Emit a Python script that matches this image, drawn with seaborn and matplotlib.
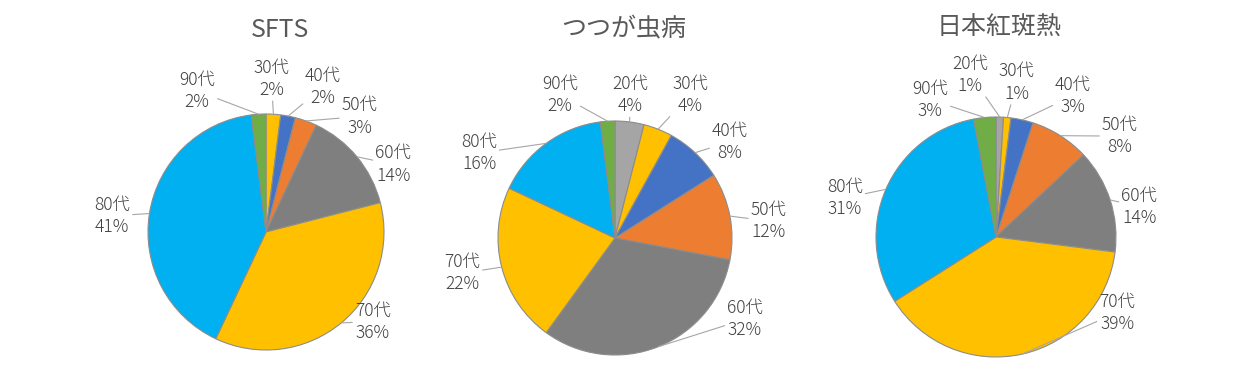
import numpy as np
import matplotlib
matplotlib.use("Agg")
import matplotlib.pyplot as plt
import seaborn as sns

# ---------------- data ----------------
ages = ["20代", "30代", "40代", "50代", "60代", "70代", "80代", "90代"]
titles = ["SFTS", "つつが虫病", "日本紅斑熱"]
sfts_pct = [0, 2, 2, 3, 14, 36, 41, 2]
tsutsugamushi_pct = [4, 4, 8, 12, 32, 22, 16, 2]
jsf_pct = [1, 1, 3, 8, 14, 39, 31, 3]

# ---------------- style ----------------
colors = ["#A5A5A5", "#FFC000", "#4472C4", "#ED7D31",
          "#7F7F7F", "#FFC000", "#00B0F0", "#70AD47"]
W, H = 1239, 377

# layout (pixel units, y from top); label angles clockwise from 12 o'clock
layouts = [
    dict(center=(266, 232), r=118, title_xy=(280, 30),
         lab_ang=[None, 2, 21.5, 39, 62, 130, 276, 334],
         lab_dist=[None, 1.30, 1.32, 1.26, 1.22, 1.18, 1.31, 1.33]),
    dict(center=(615, 238), r=117, title_xy=(624, 29),
         lab_ang=[6, 27.7, 50, 83.7, 122, 257, 302, 339],
         lab_dist=[1.23, 1.38, 1.28, 1.32, 1.31, 1.34, 1.37, 1.31]),
    dict(center=(996, 237), r=120, title_xy=(999, 27),
         lab_ang=[351, 7.7, 28.6, 50.8, 78, 122, 284.5, 334.4],
         lab_dist=[1.37, 1.30, 1.34, 1.33, 1.22, 1.19, 1.30, 1.27]),
]

sns.set_theme(style="white")
plt.rcParams["font.family"] = ["Noto Sans CJK JP", "DejaVu Sans"]

fig = plt.figure(figsize=(W / 100, H / 100), dpi=100)
ax = fig.add_axes([0, 0, 1, 1])

series = [sfts_pct, tsutsugamushi_pct, jsf_pct]
text_color = "#404040"
half_w, half_h = 20, 22

for title, vals, lay in zip(titles, series, layouts):
    idx = [i for i, v in enumerate(vals) if v > 0]
    v = [vals[i] for i in idx]
    cols = [colors[i] for i in idx]
    cx, cy_top = lay["center"]
    cy = H - cy_top
    R = lay["r"]
    wedges, _ = ax.pie(v, colors=cols, startangle=90, counterclock=False,
                       center=(cx, cy), radius=R, frame=True,
                       wedgeprops=dict(edgecolor="#8C8C8C", linewidth=0.8))
    for w, i in zip(wedges, idx):
        mid = np.deg2rad((w.theta1 + w.theta2) / 2.0)
        px, py = cx + R * np.cos(mid), cy + R * np.sin(mid)
        la = np.deg2rad(90 - lay["lab_ang"][i])
        d = lay["lab_dist"][i] * R
        lx, ly = cx + d * np.cos(la), cy + d * np.sin(la)
        dx, dy = px - lx, py - ly
        t = min(half_w / max(abs(dx), 1e-9), half_h / max(abs(dy), 1e-9))
        if t < 1:
            ax.plot([px, lx + t * dx], [py, ly + t * dy], color="#A6A6A6",
                    lw=0.8, solid_capstyle="butt", zorder=1)
        ax.text(lx, ly, f"{ages[i]}\n{vals[i]}%", ha="center", va="center",
                fontsize=12.5, fontweight="light", color=text_color,
                linespacing=1.3, zorder=3)
    tx, ty = lay["title_xy"]
    ax.text(tx, H - ty, title, ha="center", va="center", fontsize=18,
            color="#595959")

ax.set_xlim(0, W)
ax.set_ylim(0, H)
ax.set_aspect("equal")
ax.axis("off")
fig.savefig("out.png", dpi=100, facecolor="white")
